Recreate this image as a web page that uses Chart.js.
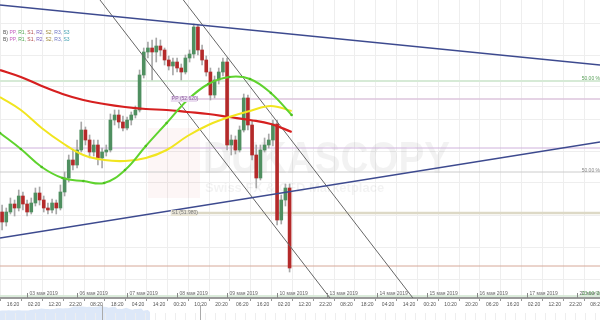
<!DOCTYPE html>
<html>
<head>
<meta charset="utf-8">
<script src="https://cdn.jsdelivr.net/npm/chart.js@4.4.0/dist/chart.umd.min.js"></script>
<style>
  html, body { margin: 0; padding: 0; background: #fff; }
  #wrap { width: 600px; height: 320px; position: relative; }
</style>
</head>
<body>
<div id="wrap"><canvas id="chart"></canvas></div>
<script>
// 2h candles, price in chart points
const openP  = [99,89,99,107,103,115,107,99,108,118,111,103,101,108,103,119,133,151,146,161,
                181,171,159,166,153,159,161,191,196,189,183,191,196,201,236,259,263,259,265,261,
                251,245,249,243,239,253,257,284,261,251,239,216,231,239,249,166,171,161,181,213,
                186,156,133,161,166,171,187,91,111,123];
const closeP = [89,99,107,103,115,107,99,108,118,111,103,101,108,103,119,133,151,146,161,181,
                171,159,166,153,159,161,191,196,189,183,191,196,201,236,259,263,259,265,261,251,
                245,249,243,239,253,257,284,261,251,239,216,231,239,249,166,171,161,181,213,186,
                156,133,161,166,171,187,91,111,123,43];
const highP  = [106,103,113,111,121,119,111,113,123,124,115,108,112,111,126,139,156,161,171,189,
                184,176,171,171,163,166,197,201,201,195,194,199,205,241,263,269,271,273,271,263,
                255,253,253,247,256,261,287,286,266,255,243,235,243,253,253,176,175,185,217,216,
                191,166,166,173,177,191,191,116,127,127];
const lowP   = [81,85,97,95,100,101,95,97,105,106,99,97,98,97,101,115,129,141,143,159,
                166,153,155,146,143,155,159,186,183,180,181,186,193,199,233,253,231,249,255,246,
                241,236,239,231,237,249,253,256,246,235,211,213,227,235,161,156,157,159,179,181,
                151,123,131,159,163,165,86,87,105,39];

// moving averages, sampled every 10 hours
const maHours  = [0,10,20,30,40,50,60,70,80,90,100,110,120,130,140];
const maRed    = [241,234,225,217,211,207,204,202,201,199,197,194,191,187,179];
const maYellow = [214,201,183,168,156,151,150,153,161,175,186,194,200,205,200];
const maGreen  = [178,162,144,133,130,128,141,165,188,211,227,234,232,218,196];

// trend and channel lines: [hourA, valueA, hourB, valueB]
const trendTop    = [0, 306, 288, 246];
const trendBottom = [0, 73, 288, 169];
const channelA    = [48, 311, 158.4, 13];
const channelB    = [88, 311, 198.2, 13];

// horizontal levels
const levelValues = [230, 212, 163, 139, 98, 45, 15];
const levelStart  = [0, 82, 0, 0, 82, 0, 0];
const levelColors = ['#d6ead6', '#dcc4dc', '#cfb2dc', '#cccccc', '#ddd9c6', '#d6a898', '#cfe6cf'];
const levelWidths = [2, 1.5, 1, 1, 2.5, 1, 1.5];

const gridLevels = [32, 64, 96, 128, 160, 192, 224, 256, 288];
const timeLabels = ['16:20','02:20','12:20','22:20','08:20','18:20','04:20','14:20','00:20','10:20',
                    '20:20','06:20','16:20','02:20','12:20','22:20','08:20','18:20','04:20','14:20',
                    '00:20','10:20','20:20','06:20','16:20','02:20','12:20','22:20','08:20'];
const dateLabels = ['03 мая 2019','06 мая 2019','07 мая 2019','08 мая 2019','09 мая 2019','10 мая 2019',
                    '13 мая 2019','14 мая 2019','15 мая 2019','16 мая 2019','17 мая 2019','20 мая 2019'];

const firstTimeHour = 5.33;
const firstDateHour = 13;

const UP = '#4f8f60', DOWN = '#b42a2a';
const hours = openP.map((_, i) => 2 * i + 1);
const candleColors = openP.map((o, i) => closeP[i] >= o ? UP : DOWN);

function seg(l) { return [{ x: l[0], y: l[1] }, { x: l[2], y: l[3] }]; }
function ma(vals) { return vals.map((v, i) => ({ x: maHours[i], y: v })); }

const datasets = [
  { type: 'line', data: ma(maGreen), borderColor: '#5fd32e', borderWidth: 2, tension: 0.4,
    pointRadius: 1.3, pointBackgroundColor: '#4cbf20', pointBorderWidth: 0 },
  { type: 'line', data: ma(maYellow), borderColor: '#f1e51f', borderWidth: 2, tension: 0.4, pointRadius: 0 },
  { type: 'line', data: ma(maRed), borderColor: '#d61f1f', borderWidth: 2.2, tension: 0.4, pointRadius: 0 },
  { type: 'line', data: seg(trendTop), borderColor: '#3d4a8f', borderWidth: 1.5, pointRadius: 0 },
  { type: 'line', data: seg(trendBottom), borderColor: '#3d4a8f', borderWidth: 1.5, pointRadius: 0 },
  { type: 'line', data: seg(channelA), borderColor: '#666', borderWidth: 1, pointRadius: 0 },
  { type: 'line', data: seg(channelB), borderColor: '#666', borderWidth: 1, pointRadius: 0 },
  { type: 'bar', data: hours.map((h, i) => ({ x: h, y: [openP[i], closeP[i]] })),
    backgroundColor: candleColors, barThickness: 3, grouped: false },
  { type: 'bar', data: hours.map((h, i) => ({ x: h, y: [lowP[i], highP[i]] })),
    backgroundColor: '#a8a8a8', barThickness: 1, grouped: false }
];
levelValues.forEach((v, i) => {
  datasets.push({ type: 'line', data: [{ x: levelStart[i], y: v }, { x: 288, y: v }],
    borderColor: levelColors[i], borderWidth: levelWidths[i], pointRadius: 0 });
});

const FONT = '"Liberation Sans", Arial, sans-serif';

const decorations = {
  id: 'decorations',
  beforeDatasetsDraw(chart) {
    const ctx = chart.ctx;
    ctx.save();
    // watermark
    ctx.fillStyle = 'rgba(220,40,40,0.045)';
    ctx.fillRect(148, 128, 52, 70);
    ctx.fillStyle = 'rgba(0,0,0,0.05)';
    ctx.font = 'bold 45px ' + FONT;
    ctx.textBaseline = 'alphabetic';
    ctx.fillText('DUKASCOPY', 203, 173, 247);
    ctx.font = 'bold 13px ' + FONT;
    ctx.fillText('Swiss FX & CFD Marketplace', 205, 192, 240);
    ctx.restore();
  },
  afterDraw(chart) {
    const ctx = chart.ctx, xs = chart.scales.x, ys = chart.scales.y;
    ctx.save();
    // dates inside the plot, just above the axis
    ctx.font = '5px ' + FONT;
    ctx.textBaseline = 'middle';
    dateLabels.forEach((d, i) => {
      const px = Math.round(xs.getPixelForValue(firstDateHour + 24 * i)) + 0.5;
      ctx.strokeStyle = '#888';
      ctx.beginPath(); ctx.moveTo(px, ys.bottom - 5); ctx.lineTo(px, ys.bottom); ctx.stroke();
      ctx.fillStyle = '#666';
      ctx.fillText(d, px + 2, ys.bottom - 4);
    });
    // level tags on the right
    ctx.textAlign = 'right';
    ctx.fillStyle = '#5aa05a';
    ctx.fillText('50.00 %', 600, ys.getPixelForValue(levelValues[0]) - 2);
    ctx.fillStyle = '#888';
    ctx.fillText('50.00 %', 600, ys.getPixelForValue(levelValues[3]) - 1);
    ctx.fillStyle = '#5aa05a';
    ctx.fillText('23.60 %', 600, ys.getPixelForValue(levelValues[6]) - 2);
    // pivot tags
    ctx.textAlign = 'left';
    const tagX = xs.getPixelForValue(levelStart[1]);
    let ty = ys.getPixelForValue(levelValues[1]);
    ctx.fillStyle = '#eadcf0'; ctx.fillRect(tagX, ty - 3, 26, 6);
    ctx.fillStyle = '#8a5a9a'; ctx.fillText('PP (52.620)', tagX + 1, ty);
    ty = ys.getPixelForValue(levelValues[4]);
    ctx.fillStyle = '#e8e4d6'; ctx.fillRect(tagX, ty - 3, 26, 6);
    ctx.fillStyle = '#777'; ctx.fillText('S1 (51.980)', tagX + 1, ty);
    // pivot legend, top left
    const parts = ['B)', 'PP,', 'R1,', 'S1,', 'R2,', 'S2,', 'R3,', 'S3'];
    const cols = ['#555', '#c65fc0', '#52a852', '#b04a4a', '#7a62c2', '#a08a3a', '#6a72c2', '#3f9fb0'];
    [33, 40].forEach(yy => {
      let cx = 3;
      parts.forEach((p, i) => {
        ctx.fillStyle = cols[i];
        ctx.fillText(p, cx, yy);
        cx += ctx.measureText(p + ' ').width;
      });
    });
    // navigator strip
    const top = 305, bot = 320, w = 150;
    const mn = Math.min(...closeP), mx = Math.max(...closeP);
    ctx.beginPath();
    ctx.moveTo(0, bot);
    closeP.forEach((v, i) => {
      ctx.lineTo(i / (closeP.length - 1) * w, bot - 8 - (v - mn) / (mx - mn) * 6);
    });
    ctx.lineTo(w, bot);
    ctx.closePath();
    ctx.fillStyle = '#dde8f8';
    ctx.fill();
    ctx.strokeStyle = '#eeeeee';
    ctx.lineWidth = 1;
    for (let px = 5.5; px < 600; px += 10) {
      ctx.beginPath(); ctx.moveTo(px, 313); ctx.lineTo(px, 320); ctx.stroke();
    }
    ctx.strokeStyle = '#aaa';
    [102.5, 200.5].forEach(px => {
      ctx.beginPath(); ctx.moveTo(px, top); ctx.lineTo(px, bot); ctx.stroke();
    });
    ctx.restore();
  }
};

new Chart(document.getElementById('chart'), {
  type: 'bar',
  data: { datasets },
  options: {
    responsive: true,
    maintainAspectRatio: false,
    animation: false,
    layout: { padding: 0, autoPadding: false },
    plugins: { legend: { display: false }, tooltip: { enabled: false } },
    scales: {
      x: {
        type: 'linear', min: 0, max: 288, offset: false,
        afterBuildTicks: s => { s.ticks = timeLabels.map((_, i) => ({ value: firstTimeHour + 10 * i })); },
        afterFit: s => { s.height = 22; s.paddingLeft = 0; s.paddingRight = 0; },
        ticks: {
          autoSkip: false, maxRotation: 0, padding: 1, labelOffset: 2,
          color: '#555', font: { size: 5, family: FONT },
          callback: (v, i) => timeLabels[i]
        },
        grid: { color: '#eeeeee', tickLength: 3, tickColor: '#999' },
        border: { color: '#9a9a9a', width: 2 }
      },
      y: {
        min: 13, max: 311,
        afterBuildTicks: s => { s.ticks = gridLevels.map(v => ({ value: v })); },
        afterFit: s => { s.width = 0; s.paddingTop = 0; s.paddingBottom = 0; },
        ticks: { display: false },
        grid: { color: '#eeeeee', drawTicks: false },
        border: { display: false }
      }
    }
  },
  plugins: [decorations]
});
</script>
</body>
</html>
